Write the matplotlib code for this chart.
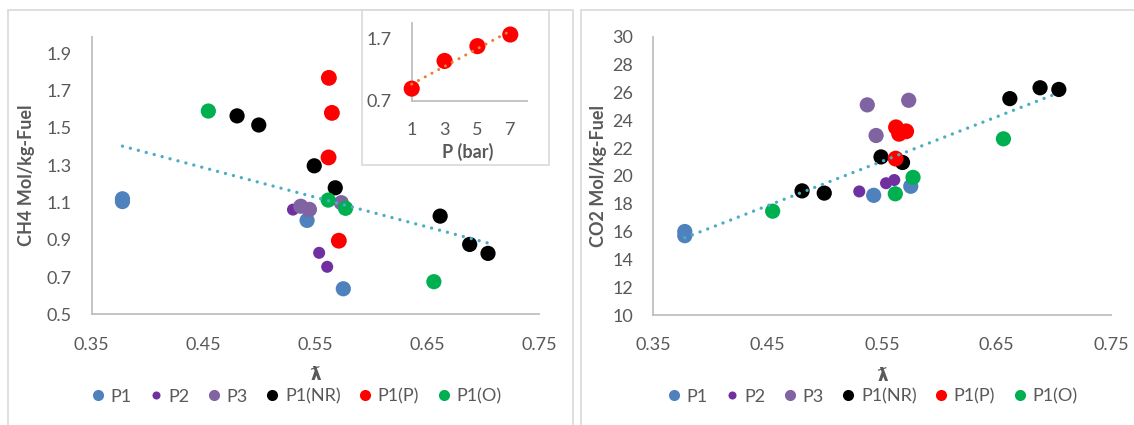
import numpy as np
import matplotlib.pyplot as plt
from matplotlib.patches import Rectangle
from matplotlib.lines import Line2D

plt.rcParams["font.family"] = ["Lato", "DejaVu Sans"]

# ---- data ------------------------------------------------------------------
series_names = ["P1", "P2", "P3", "P1(NR)", "P1(P)", "P1(O)"]
series_colors = ["#4F81BD", "#7030A0", "#8064A2", "#000000", "#FF0000", "#00B050"]

lam_p1 = [0.3775, 0.3775, 0.5426, 0.575]
ch4_p1 = [1.12, 1.105, 1.004, 0.637]
co2_p1 = [16.0, 15.7, 18.6, 19.25]

lam_p2 = [0.530, 0.5534, 0.5606]
ch4_p2 = [1.062, 0.830, 0.755]
co2_p2 = [18.88, 19.47, 19.70]

lam_p3 = [0.537, 0.5447, 0.5732]
ch4_p3 = [1.08, 1.063, 1.099]
co2_p3 = [25.10, 22.90, 25.43]

lam_nr = [0.480, 0.4994, 0.549, 0.5678, 0.6616, 0.688, 0.7044]
ch4_nr = [1.565, 1.516, 1.297, 1.179, 1.027, 0.875, 0.827]
co2_nr = [18.92, 18.76, 21.36, 20.96, 25.55, 26.33, 26.21]

p_bar = [1, 3, 5, 7]
lam_pr = [0.571, 0.5618, 0.5648, 0.5621]
ch4_pr = [0.895, 1.342, 1.581, 1.769]
co2_pr = [23.2, 21.24, 23.02, 23.49]

lam_o = [0.4543, 0.5615, 0.577, 0.656]
ch4_o = [1.591, 1.113, 1.069, 0.675]
co2_o = [17.46, 18.71, 19.89, 22.66]

x_ticks = [0.35, 0.45, 0.55, 0.65, 0.75]
ch4_ticks = [0.5, 0.7, 0.9, 1.1, 1.3, 1.5, 1.7, 1.9]
co2_ticks = list(range(10, 31, 2))

lams = [lam_p1, lam_p2, lam_p3, lam_nr, lam_pr, lam_o]
ch4s = [ch4_p1, ch4_p2, ch4_p3, ch4_nr, ch4_pr, ch4_o]
co2s = [co2_p1, co2_p2, co2_p3, co2_nr, co2_pr, co2_o]
sizes = [120, 75, 120, 120, 130, 120]

TXT = "#595959"
AXC = "#BFBFBF"
BORDER = "#D9D9D9"
TREND = "#4BACC6"
W, H = 1134, 425


def fbox(x0, y0, x1, y1):
    """pixel box (top-left origin) -> figure fraction [l, b, w, h]"""
    return [x0 / W, 1 - y1 / H, (x1 - x0) / W, (y1 - y0) / H]


def style_axes(ax, xpad=16, ypad=14.5):
    for s in ("top", "right"):
        ax.spines[s].set_visible(False)
    for s in ("left", "bottom"):
        ax.spines[s].set_color(AXC)
        ax.spines[s].set_linewidth(1.3)
    ax.tick_params(axis="x", length=0, pad=xpad, labelsize=13, labelcolor=TXT)
    ax.tick_params(axis="y", length=0, pad=ypad, labelsize=13, labelcolor=TXT)
    ax.set_facecolor("none")


def main_chart(ax, ys, yticks, ylim, ylabel, ylab_x, fmt):
    for lam, y, c, s, n in zip(lams, ys, series_colors, sizes, series_names):
        ax.scatter(lam, y, s=s, color=c, edgecolors="none", zorder=3, label=n)
    # linear trend over all points
    all_x = np.concatenate([np.asarray(v, float) for v in lams])
    all_y = np.concatenate([np.asarray(v, float) for v in ys])
    k, b = np.polyfit(all_x, all_y, 1)
    tx = np.array([all_x.min(), all_x.max()])
    ax.plot(tx, k * tx + b, color=TREND, lw=2.4, linestyle=(0, (0.01, 2.45)),
            dash_capstyle="round", zorder=4)
    ax.set_xlim(0.35, 0.75)
    ax.set_ylim(*ylim)
    ax.set_xticks(x_ticks)
    ax.set_xticklabels([f"{t:.2f}" for t in x_ticks])
    ax.set_yticks(yticks)
    ax.set_yticklabels([fmt.format(t) for t in yticks])
    style_axes(ax)
    ax.text(ylab_x, 0.5, ylabel, rotation=90, transform=ax.transAxes, ha="center",
            va="center", fontsize=13, fontweight="bold", color=TXT)
    ax.text(0.5, -0.22, "\u019b", transform=ax.transAxes, ha="center", va="center",
            fontsize=13, fontweight="bold", color=TXT, family=["DejaVu Sans"])


fig = plt.figure(figsize=(W / 100, H / 100), dpi=100)

# chart-area borders
for x0, x1 in [(8, 573), (581, 1150)]:
    l, b_, w, h = fbox(x0, 10, x1, 460)
    fig.patches.append(Rectangle((l, b_), w, h, transform=fig.transFigure, fill=False,
                                 edgecolor=BORDER, lw=1.2, zorder=0))

ax1 = fig.add_axes(fbox(91.7, 36.7, 539, 314.3))
main_chart(ax1, ch4s, ch4_ticks, (0.5, 1.99), "CH4 Mol/kg-Fuel", -0.145, "{:.1f}")

ax2 = fig.add_axes(fbox(653.3, 36.7, 1111, 315))
main_chart(ax2, co2s, co2_ticks, (10, 30), "CO2 Mol/kg-Fuel", -0.119, "{:d}")

# legends
handles = [Line2D([], [], ls="none", marker="o", markersize=(5.8 if n == "P2" else 8),
                  markerfacecolor=c, markeredgecolor="none")
           for n, c in zip(series_names, series_colors)]
for cx in (296, 872):
    fig.legend(handles, series_names, loc="center", bbox_to_anchor=(cx / W, 1 - 396.5 / H),
               ncol=6, frameon=False, fontsize=13, labelcolor=TXT, handlelength=0.8,
               handletextpad=0.3, columnspacing=0.95, borderpad=0)

# inset chart (CH4 vs pressure)
l, b_, w, h = fbox(362, 10, 549, 165)
fig.patches.append(Rectangle((l, b_), w, h, transform=fig.transFigure, facecolor="white",
                             edgecolor=BORDER, lw=1.2, zorder=5))
ax3 = fig.add_axes(fbox(411.7, 23.3, 526.7, 100.7))
ax3.set_zorder(6)
ax3.scatter(p_bar, ch4_pr, s=135, color="#FF0000", edgecolors="none", zorder=3, clip_on=False)
k, b = np.polyfit(p_bar, ch4_pr, 1)
px = np.array([min(p_bar), max(p_bar)])
ax3.plot(px, k * px + b, color="#ED7D31", lw=2.2, linestyle=(0, (0.01, 2.5)),
         dash_capstyle="round", zorder=4, clip_on=False)
ax3.set_xlim(1, 8)
ax3.set_ylim(0.7, 1.95)
ax3.set_xticks([1, 3, 5, 7])
ax3.set_yticks([0.7, 1.7])
ax3.set_yticklabels(["0.7", "1.7"])
style_axes(ax3, xpad=15, ypad=14.5)
ax3.text(0.49, -0.66, "P (bar)", transform=ax3.transAxes, ha="center", va="center",
         fontsize=13, fontweight="bold", color=TXT)

fig.savefig("out.png", dpi=100, facecolor="white")
